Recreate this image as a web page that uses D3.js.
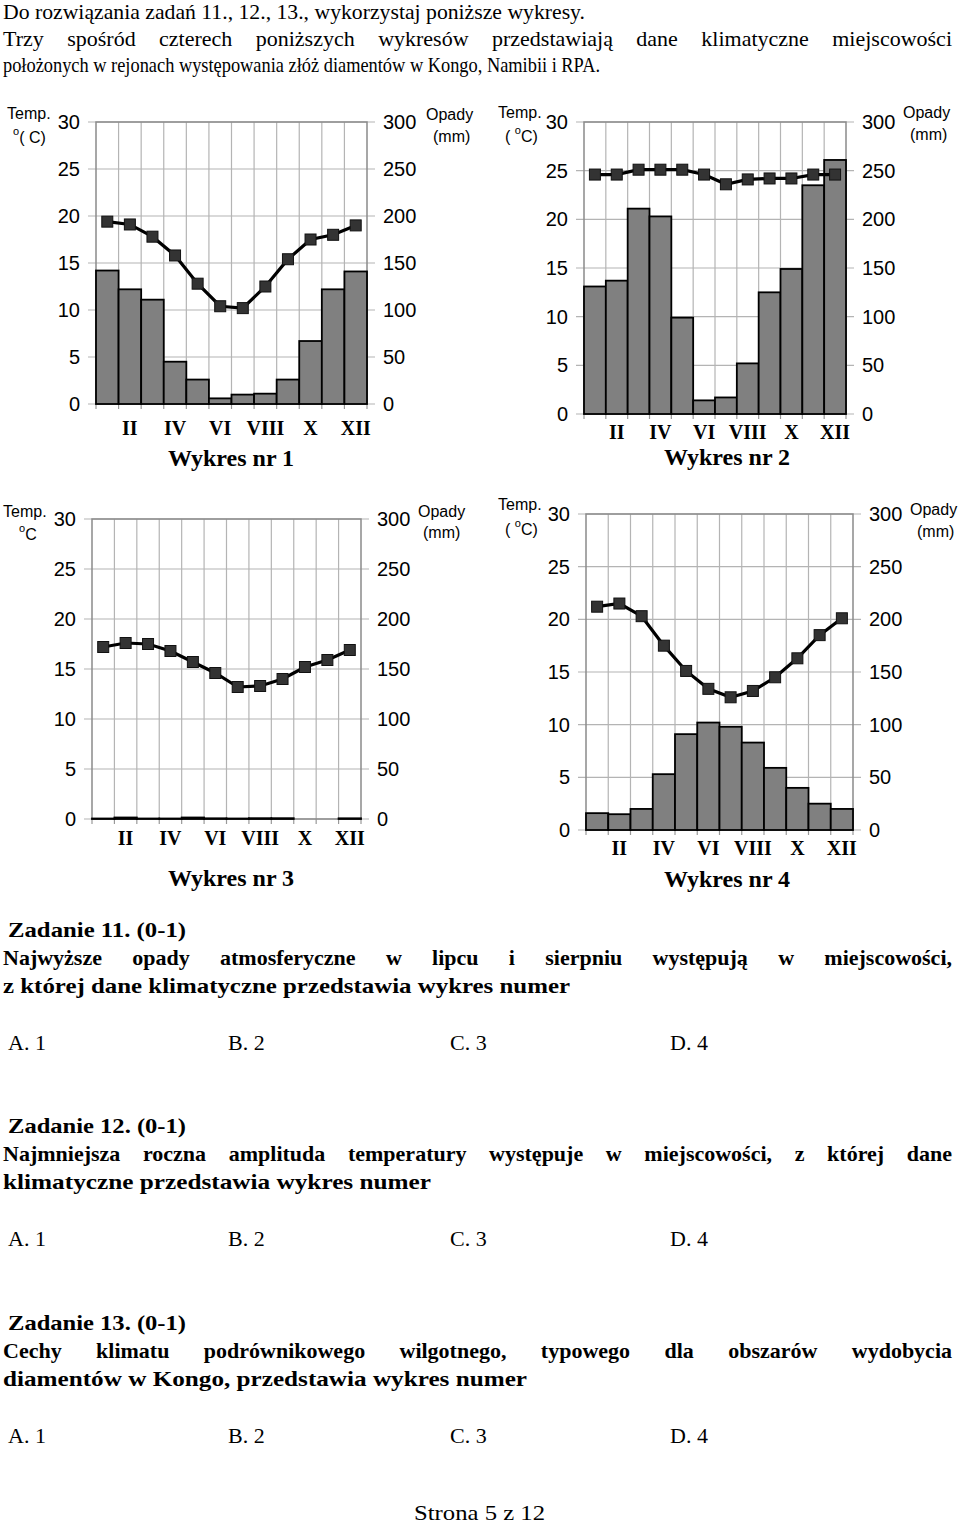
<!DOCTYPE html>
<html><head><meta charset="utf-8">
<script src="https://cdnjs.cloudflare.com/ajax/libs/d3/7.8.5/d3.min.js"></script>
<style>body{margin:0;background:#fff} svg{display:block}</style>
</head><body><svg id="c" width="960" height="1524"></svg>
<script>
// ---------- data ----------
const months = ["I","II","III","IV","V","VI","VII","VIII","IX","X","XI","XII"];
const monthLabels = ["II","IV","VI","VIII","X","XII"];
const tempTicks = [0,5,10,15,20,25,30];
const precipTicks = [0,50,100,150,200,250,300];

const temp1 = [19.4, 19.1, 17.8, 15.8, 12.8, 10.4, 10.2, 12.5, 15.4, 17.5, 18.0, 19.0];
const precip1 = [142, 122, 111, 45, 26, 6, 10, 11, 26, 67, 122, 141];
const temp2 = [24.6, 24.6, 25.1, 25.1, 25.1, 24.6, 23.6, 24.1, 24.2, 24.2, 24.6, 24.6];
const precip2 = [131, 137, 211, 203, 99, 14, 17, 52, 125, 149, 235, 261];
const temp3 = [17.2, 17.6, 17.5, 16.8, 15.7, 14.6, 13.2, 13.3, 14.0, 15.2, 15.9, 16.9];
const precip3 = [0.5, 1.5, 0.5, 0.5, 1.5, 0.7, 0.5, 0.8, 0.8, 0, 0, 0.7];
const temp4 = [21.2, 21.5, 20.3, 17.5, 15.1, 13.4, 12.6, 13.2, 14.5, 16.3, 18.5, 20.1];
const precip4 = [16, 15, 20, 53, 91, 102, 98, 83, 59, 40, 25, 20];

const chartTitles = ["Wykres nr 1","Wykres nr 2","Wykres nr 3","Wykres nr 4"];

// ---------- drawing ----------
const svg = d3.select("#c");
const serif = "'Liberation Serif','Times New Roman',serif";
const sans = "'Liberation Sans',Arial,sans-serif";

function drawChart(cfg){
  const g = svg.append("g");
  const x = d3.scaleBand().domain(months).range([cfg.x0, cfg.x1]).padding(0);
  const bw = x.bandwidth();
  const yT = d3.scaleLinear().domain([0,30]).range([cfg.y1, cfg.y0]);
  const yP = d3.scaleLinear().domain([0,300]).range([cfg.y1, cfg.y0]);

  g.selectAll(".hg").data(tempTicks).join("line")
    .attr("x1", cfg.x0-8).attr("x2", cfg.x1+8)
    .attr("y1", d=>yT(d)).attr("y2", d=>yT(d))
    .attr("stroke","#b4b4b4").attr("stroke-width",1.2);
  g.selectAll(".vg").data(months.slice(1)).join("line")
    .attr("x1", d=>x(d)).attr("x2", d=>x(d))
    .attr("y1", cfg.y0).attr("y2", cfg.y1)
    .attr("stroke","#b4b4b4").attr("stroke-width",1.2);
  g.selectAll(".bt").data(months.map(m=>x(m)).concat([cfg.x1])).join("line")
    .attr("x1", d=>d).attr("x2", d=>d)
    .attr("y1", cfg.y1).attr("y2", cfg.y1+5)
    .attr("stroke","#999").attr("stroke-width",1.2);
  g.append("rect").attr("x",cfg.x0).attr("y",cfg.y0)
    .attr("width",cfg.x1-cfg.x0).attr("height",cfg.y1-cfg.y0)
    .attr("fill","none").attr("stroke","#8a8a8a").attr("stroke-width",1.5);

  const la = g.append("g").attr("transform",`translate(${cfg.x0},0)`)
    .call(d3.axisLeft(yT).tickValues(tempTicks).tickSize(0).tickPadding(16));
  const ra = g.append("g").attr("transform",`translate(${cfg.x1},0)`)
    .call(d3.axisRight(yP).tickValues(precipTicks).tickSize(0).tickPadding(16));
  [la,ra].forEach(a=>{
    a.select(".domain").remove();
    a.selectAll("text").attr("font-family",sans).attr("font-size",20).attr("fill","#000");
  });

  g.selectAll(".bar").data(cfg.precip).join("rect")
    .attr("x",(d,i)=>x(months[i])).attr("width",bw)
    .attr("y",d=>yP(d)).attr("height",d=>yP(0)-yP(d))
    .attr("fill","#808080").attr("stroke",d=>d>0?"#000":"none").attr("stroke-width",1.8);

  const line = d3.line().x((d,i)=>x(months[i])+bw/2).y(d=>yT(d));
  g.append("path").datum(cfg.temp).attr("d",line)
    .attr("fill","none").attr("stroke","#000").attr("stroke-width",3.2);
  g.selectAll(".mk").data(cfg.temp).join("rect")
    .attr("x",(d,i)=>x(months[i])+bw/2-5.5).attr("y",d=>yT(d)-5.5)
    .attr("width",11).attr("height",11)
    .attr("fill","#333").attr("stroke","#111").attr("stroke-width",1);

  g.selectAll(".ml").data(monthLabels).join("text")
    .attr("x",d=>x(d)+bw/2).attr("y",cfg.monthY)
    .attr("text-anchor","middle").attr("font-family",serif)
    .attr("font-weight","bold").attr("font-size",20).text(d=>d);
  g.append("text").attr("x",cfg.titleX).attr("y",cfg.titleY)
    .attr("text-anchor","middle").attr("font-family",serif)
    .attr("font-weight","bold").attr("font-size",24).text(cfg.title);

  const small = (tx,ty,parts)=>{
    const t = g.append("text").attr("x",tx).attr("y",ty)
      .attr("font-family",sans).attr("font-size",16).attr("fill","#000")
      .style("white-space","pre");
    let shift = 0;
    parts.forEach(p=>{
      if(p.sup){
        t.append("tspan").attr("font-size",11).attr("dy",-8).text(p.t);
        shift = 8;
      } else {
        t.append("tspan").attr("dy",shift).text(p.t);
        shift = 0;
      }
    });
  };
  small(cfg.tl[0], cfg.tl[1], [{t:"Temp."}]);
  small(cfg.tu[0], cfg.tu[1], cfg.unitParts);
  small(cfg.ol[0], cfg.ol[1], [{t:"Opady"}]);
  small(cfg.om[0], cfg.om[1], [{t:"(mm)"}]);
}

drawChart({x0:96, x1:367, y0:122, y1:404, temp:temp1, precip:precip1,
  monthY:435, title:chartTitles[0], titleX:231, titleY:466,
  tl:[7,119], tu:[13,143], unitParts:[{t:"o",sup:true},{t:"( C)"}],
  ol:[426,120], om:[433,142]});
drawChart({x0:584, x1:846, y0:122, y1:414, temp:temp2, precip:precip2,
  monthY:439, title:chartTitles[1], titleX:727, titleY:465,
  tl:[498,118], tu:[505,142], unitParts:[{t:"( "},{t:"o",sup:true},{t:"C)"}],
  ol:[903,118], om:[910,140]});
drawChart({x0:92, x1:361, y0:519, y1:819, temp:temp3, precip:precip3,
  monthY:845, title:chartTitles[2], titleX:231, titleY:886,
  tl:[3,517], tu:[19,540], unitParts:[{t:"o",sup:true},{t:"C"}],
  ol:[418,517], om:[423,538]});
drawChart({x0:586, x1:853, y0:514, y1:830, temp:temp4, precip:precip4,
  monthY:855, title:chartTitles[3], titleX:727, titleY:887,
  tl:[498,510], tu:[505,535], unitParts:[{t:"( "},{t:"o",sup:true},{t:"C)"}],
  ol:[910,515], om:[917,537]});

// ---------- text ----------
function textLine(str, x, y, width, opt={}){
  const t = svg.append("text").attr("x",x).attr("y",y)
    .attr("font-family",serif).attr("font-size",opt.size||22)
    .attr("font-weight",opt.bold?"bold":"normal").attr("fill","#000")
    .style("white-space","pre").text(str);
  if(width){
    const L = t.node().getComputedTextLength();
    if(opt.justify){
      const n = (str.match(/ /g)||[]).length;
      t.style("word-spacing", ((width-L)/n)+"px");
    } else {
      t.attr("textLength",width).attr("lengthAdjust","spacingAndGlyphs");
    }
  }
  return t;
}

textLine("Do rozwiązania zadań 11., 12., 13., wykorzystaj poniższe wykresy.", 3, 19, 582);
textLine("Trzy spośród czterech poniższych wykresów przedstawiają dane klimatyczne miejscowości", 3, 46, 949, {justify:true});
textLine("położonych w rejonach występowania złóż diamentów w Kongo, Namibii i RPA.", 3, 72, 597);

const answers = ["A. 1","B. 2","C. 3","D. 4"];
const answerX = [8, 228, 450, 670];
function task(title, lines, y0){
  textLine(title, 8, y0, 178, {bold:true});
  lines.forEach((l,i)=>{
    textLine(l.t, 3, y0+28*(i+1), l.w, {bold:true, justify:!!l.j});
  });
  answers.forEach((a,i)=>textLine(a, answerX[i], y0+113, null));
}
task("Zadanie 11. (0-1)", [
  {t:"Najwyższe opady atmosferyczne w lipcu i sierpniu występują w miejscowości,", w:949, j:true},
  {t:"z której dane klimatyczne przedstawia wykres numer", w:567}], 937);
task("Zadanie 12. (0-1)", [
  {t:"Najmniejsza roczna amplituda temperatury występuje w miejscowości, z której dane", w:949, j:true},
  {t:"klimatyczne przedstawia wykres numer", w:428}], 1133);
task("Zadanie 13. (0-1)", [
  {t:"Cechy klimatu podrównikowego wilgotnego, typowego dla obszarów wydobycia", w:949, j:true},
  {t:"diamentów w Kongo, przedstawia wykres numer", w:524}], 1330);

textLine("Strona 5 z 12", 414, 1520, 131);
</script></body></html>
